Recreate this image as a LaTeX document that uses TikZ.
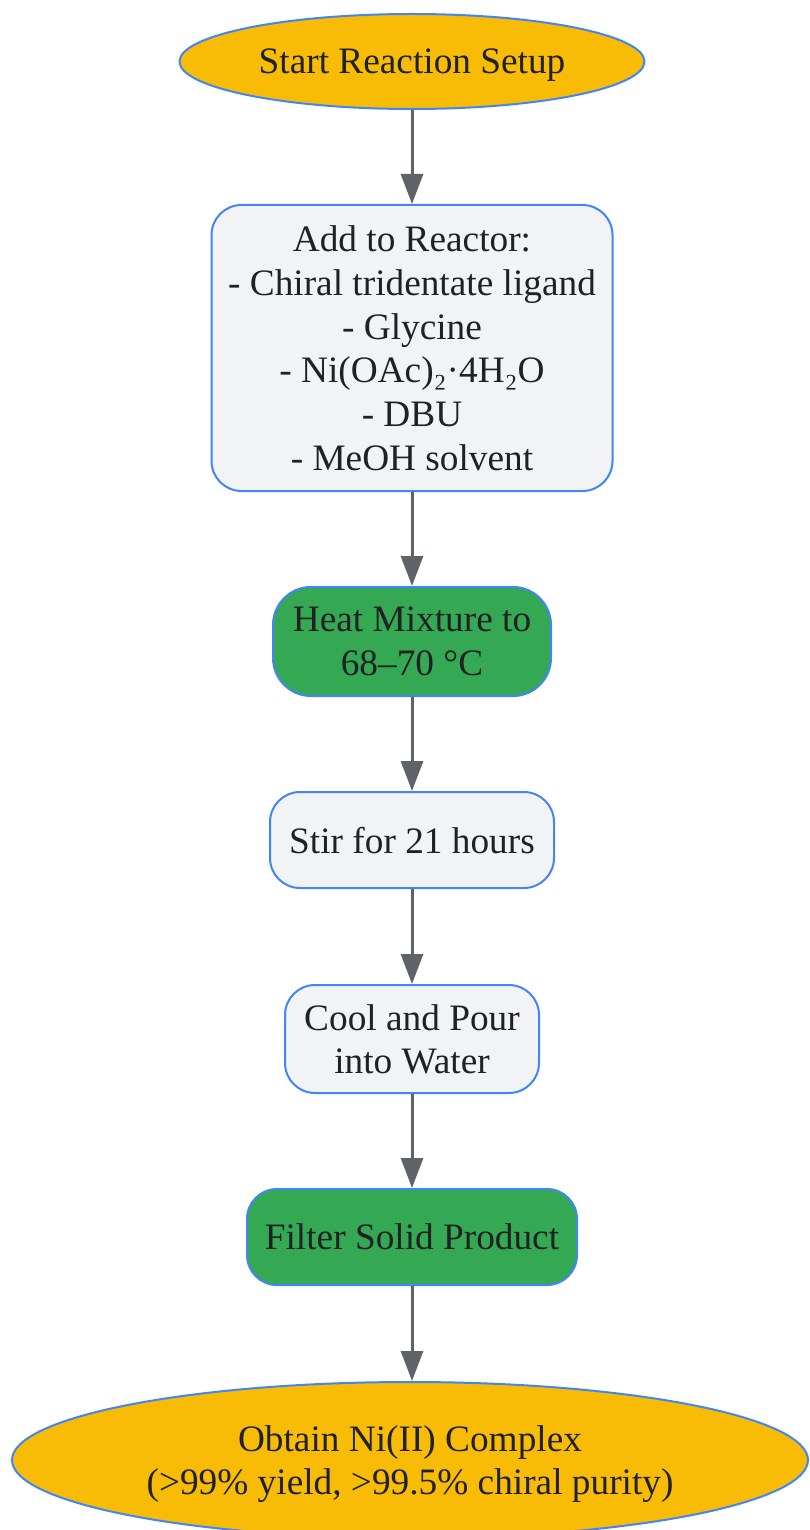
\documentclass[tikz,border=0pt]{standalone}
\usepackage{fontspec}
\setmainfont{Liberation Serif}
\usetikzlibrary{arrows.meta,shapes.geometric}
\definecolor{gyellow}{HTML}{F9BC06}
\definecolor{ggreen}{HTML}{34A853}
\definecolor{ggray}{HTML}{F1F3F4}
\definecolor{gblue}{HTML}{4285F4}
\definecolor{garrow}{HTML}{5F6368}
\definecolor{gtext}{HTML}{202124}
\tikzset{
  base/.style={draw=gblue, line width=2pt, text=gtext, align=center, inner sep=0pt,
    font=\fontsize{37.3}{43.8}\selectfont},
  term/.style={base, ellipse, fill=gyellow},
  proc/.style={base, rectangle, rounded corners=30pt, fill=ggray, text depth=-4pt},
  hot/.style={base, rectangle, rounded corners=38pt, fill=ggreen, text depth=-4pt},
  flow/.style={draw=garrow, line width=3pt, -{Triangle[length=30pt,width=22pt]}},
}
\begin{document}
\begin{tikzpicture}[x=1pt,y=-1pt]
\useasboundingbox (0,0) rectangle (809,1530);
\node[term, text depth=-4pt, minimum width=465pt, minimum height=95pt] (start) at (412,61.5) {Start Reaction Setup};
\node[proc, text depth=-2pt, minimum width=401pt, minimum height=286pt] (add) at (412,348) {Add to Reactor:\\- Chiral tridentate ligand\\- Glycine\\- Ni(OAc)₂·4H₂O\\- DBU\\- MeOH solvent};
\node[hot, minimum width=278pt, minimum height=109pt] (heat) at (412,641.5) {Heat Mixture to\\68–70 °C};
\node[proc, minimum width=284pt, minimum height=96pt] (stir) at (412,840) {Stir for 21 hours};
\node[proc, minimum width=254pt, minimum height=108pt] (cool) at (412,1039) {Cool and Pour\\into Water};
\node[hot, rounded corners=30pt, minimum width=330pt, minimum height=96pt] (filter) at (412,1237) {Filter Solid Product};
\node[term, text depth=-2pt, minimum width=796pt, minimum height=156pt] (obtain) at (410,1460) {Obtain Ni(II) Complex\\(>99\% yield, >99.5\% chiral purity)};
\draw[flow] (start.south) -- (add.north);
\draw[flow] (add.south) -- (heat.north);
\draw[flow] (heat.south) -- (stir.north);
\draw[flow] (stir.south) -- (cool.north);
\draw[flow] (cool.south) -- (filter.north);
\draw[flow] (filter.south) -- (filter.south |- obtain.north);
\end{tikzpicture}
\end{document}
